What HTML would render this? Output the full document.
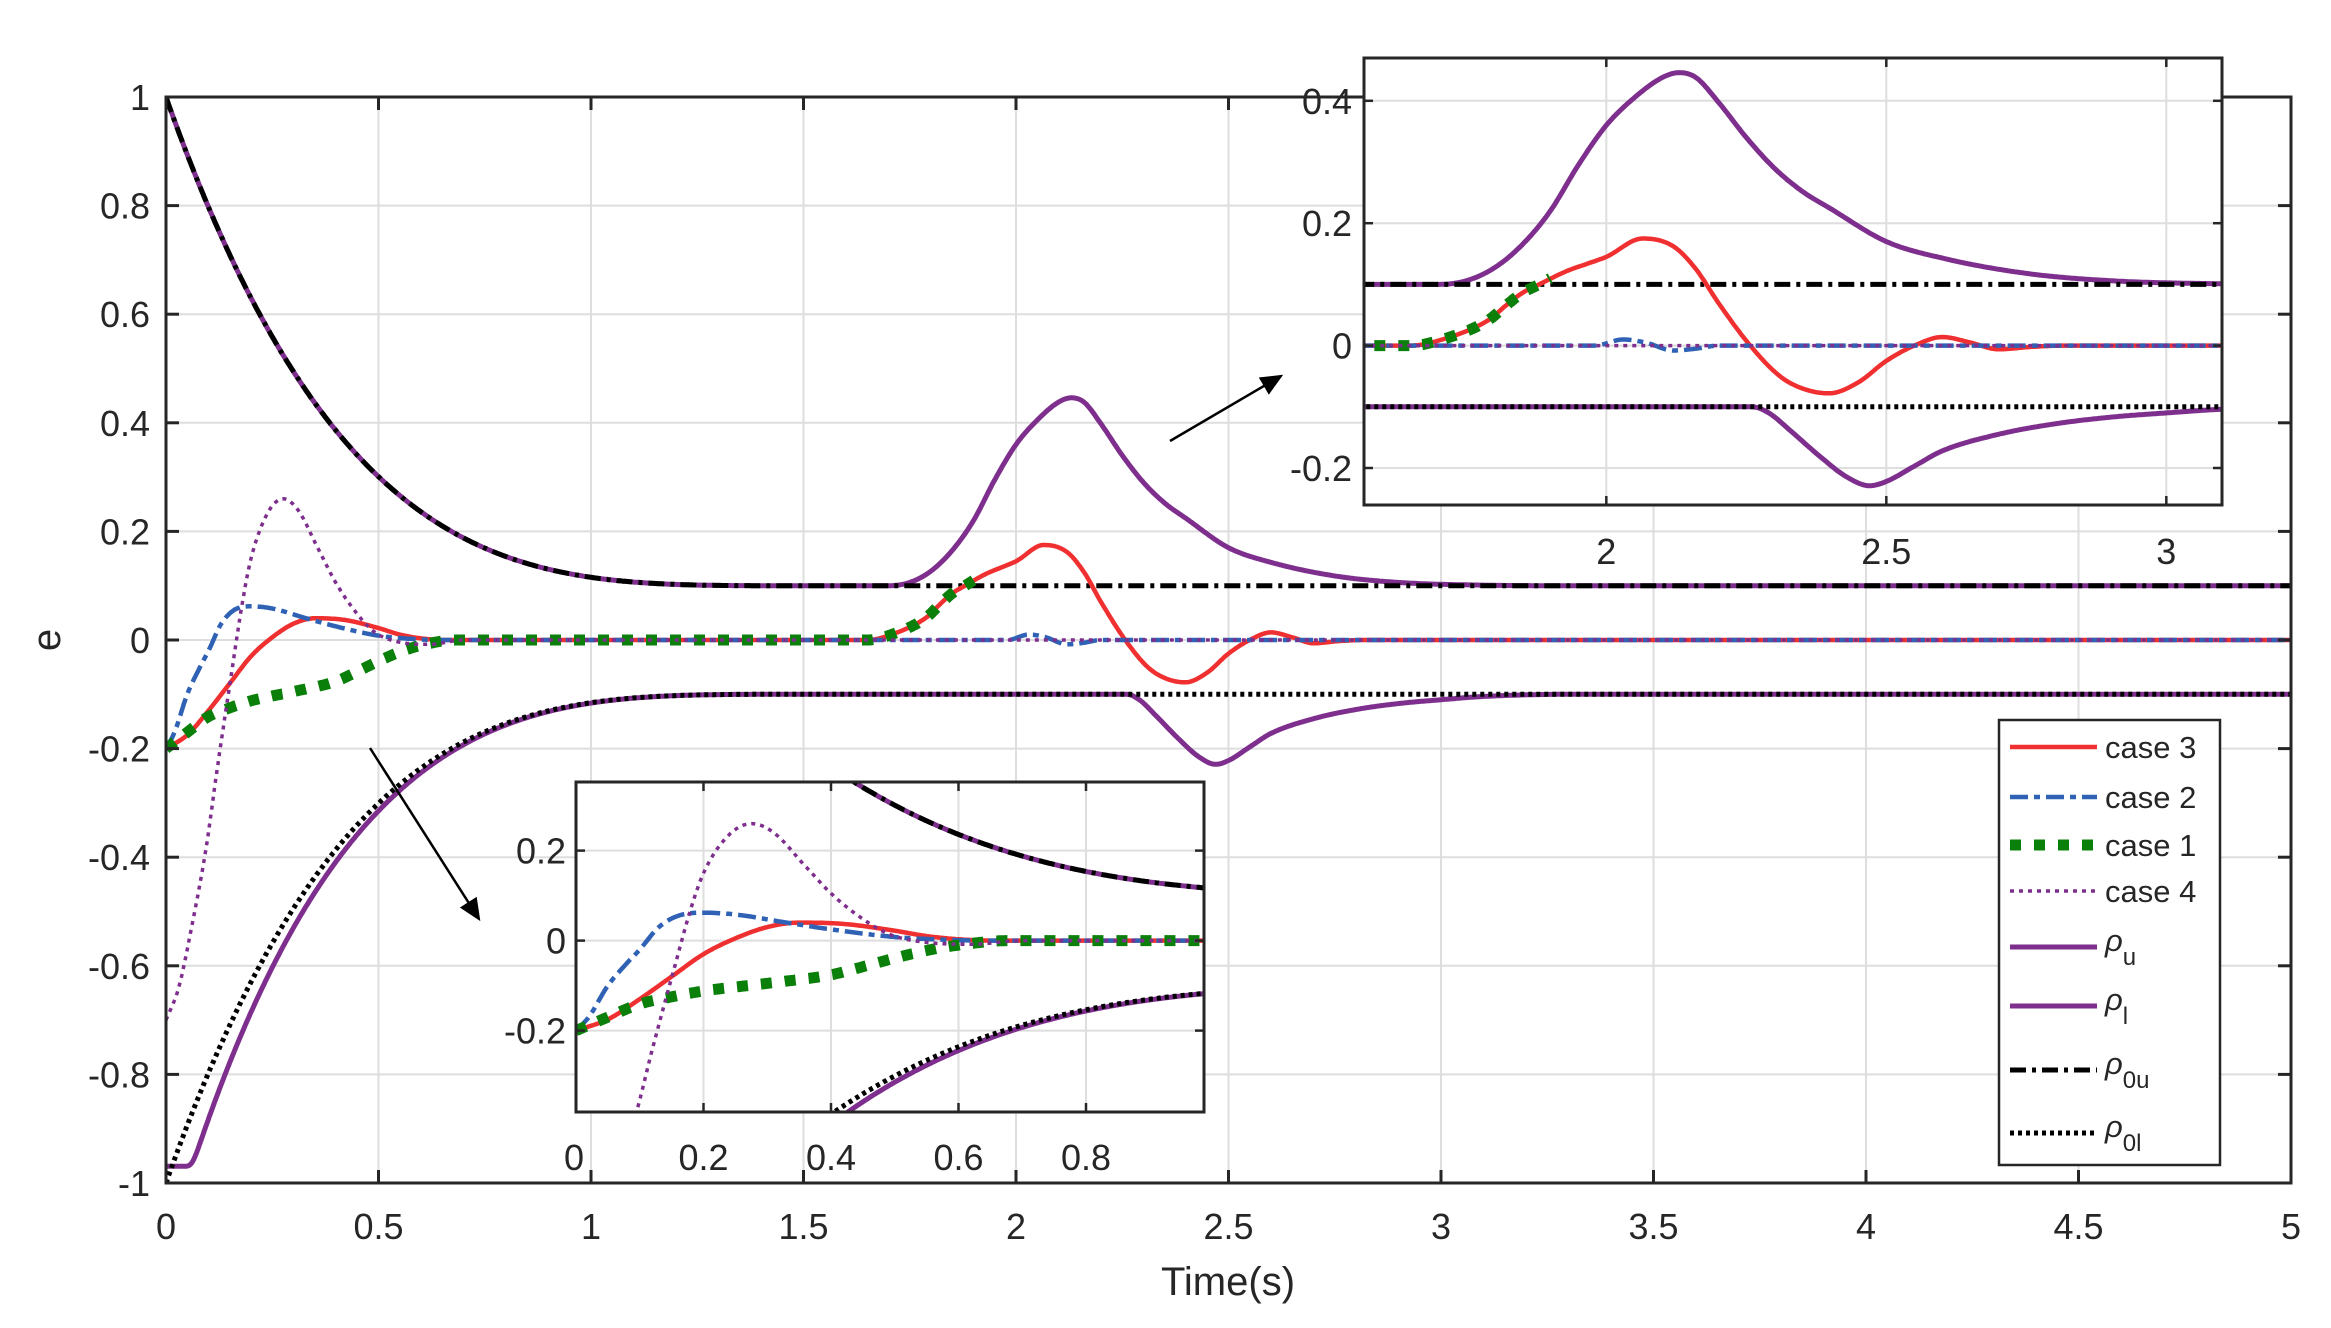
<!DOCTYPE html>
<html><head><meta charset="utf-8">
<style>
html,body{margin:0;padding:0;background:#fff;}
svg{display:block;}
text{font-family:"Liberation Sans",sans-serif;fill:#262626;}
</style></head>
<body>
<svg id="s" width="2331" height="1328" xmlns="http://www.w3.org/2000/svg">
<defs>
<clipPath id="cm"><rect x="166" y="97" width="2125" height="1086"/></clipPath>
<clipPath id="c1"><rect x="576" y="782" width="628" height="330"/></clipPath>
<clipPath id="c2"><rect x="1364" y="58" width="858" height="447"/></clipPath>
<marker id="ah" markerWidth="10" markerHeight="10" refX="8" refY="5" orient="auto" markerUnits="strokeWidth"><path d="M0,1 L9,5 L0,9 z" fill="#000"/></marker>
</defs>
<g id="root"></g>
</svg>
<script>
const NS="http://www.w3.org/2000/svg";
const root=document.getElementById('root');
function el(tag,attrs,parent,txt){const e=document.createElementNS(NS,tag);for(const k in attrs)e.setAttribute(k,attrs[k]);if(txt!==undefined)e.textContent=txt;(parent||root).appendChild(e);return e;}
function mono(pts){const n=pts.length,xs=pts.map(p=>p[0]),ys=pts.map(p=>p[1]);const d=[],m=[];
for(let i=0;i<n-1;i++)d.push((ys[i+1]-ys[i])/(xs[i+1]-xs[i]));
m[0]=d[0];m[n-1]=d[n-2];for(let i=1;i<n-1;i++){if(d[i-1]*d[i]<=0)m[i]=0;else m[i]=(d[i-1]+d[i])/2;}
for(let i=0;i<n-1;i++){if(d[i]===0){m[i]=0;m[i+1]=0;continue;}const a=m[i]/d[i],b=m[i+1]/d[i];const s=a*a+b*b;if(s>9){const t=3/Math.sqrt(s);m[i]=t*a*d[i];m[i+1]=t*b*d[i];}}
return function(x){if(x<=xs[0])return ys[0];if(x>=xs[n-1])return ys[n-1];let i=0;while(x>xs[i+1])i++;const h=xs[i+1]-xs[i],t=(x-xs[i])/h;const t2=t*t,t3=t2*t;
return (2*t3-3*t2+1)*ys[i]+(t3-2*t2+t)*h*m[i]+(-2*t3+3*t2)*ys[i+1]+(t3-t2)*h*m[i+1];};}
function r0u(t){return t>=1.5?0.1:0.1+0.9*Math.pow(1-t/1.5,3.7);}
const bumpU=mono([[1.5,0.1],[1.7,0.1],[1.75,0.106],[1.8,0.127],[1.85,0.165],[1.9,0.22],[1.95,0.295],[2.0,0.36],[2.05,0.405],[2.1,0.438],[2.13,0.446],[2.16,0.438],[2.2,0.398],[2.25,0.34],[2.3,0.29],[2.35,0.252],[2.4,0.224],[2.5,0.17],[2.6,0.143],[2.75,0.118],[2.9,0.106],[3.1,0.101],[3.3,0.1],[5,0.1]]);
function ru(t){return t<1.5?r0u(t):bumpU(t);}
const dipL=mono([[2.2,-0.1],[2.26,-0.1],[2.29,-0.11],[2.33,-0.14],[2.38,-0.18],[2.43,-0.215],[2.47,-0.229],[2.5,-0.222],[2.55,-0.197],[2.6,-0.172],[2.7,-0.145],[2.8,-0.128],[2.9,-0.117],[3.0,-0.11],[3.1,-0.104],[3.3,-0.1],[5,-0.1]]);
function smin(a,b,k){return -k*Math.log(Math.exp(-a/k)+Math.exp(-b/k));}
function rl(t){if(t>=2.2)return dipL(t);const d=0.055*Math.exp(-2.2*t);return -smin(0.97,r0u(Math.max(0,t-d)),0.012);}
const c3=mono([[0,-0.2],[0.05,-0.175],[0.1,-0.13],[0.15,-0.08],[0.2,-0.03],[0.25,0.005],[0.3,0.03],[0.35,0.04],[0.42,0.037],[0.5,0.022],[0.55,0.01],[0.6,0.003],[0.66,0],[1.65,0],[1.714,0.012],[1.79,0.042],[1.82,0.065],[1.85,0.086],[1.88,0.1],[1.93,0.122],[1.97,0.135],[2.0,0.145],[2.065,0.175],[2.12,0.162],[2.16,0.125],[2.2,0.07],[2.257,0],[2.31,-0.05],[2.35,-0.07],[2.398,-0.078],[2.45,-0.06],[2.5,-0.025],[2.55,0.0],[2.6,0.014],[2.65,0.005],[2.7,-0.006],[2.76,-0.002],[2.82,0],[5,0]]);
const c2=mono([[0,-0.2],[0.02,-0.17],[0.05,-0.1],[0.08,-0.05],[0.1,-0.02],[0.13,0.03],[0.16,0.055],[0.2,0.062],[0.25,0.058],[0.33,0.04],[0.4,0.025],[0.5,0.008],[0.6,0.001],[0.65,0],[1.98,0],[2.03,0.01],[2.07,0.005],[2.12,-0.008],[2.16,-0.005],[2.2,0],[5,0]]);
const c1=mono([[0,-0.2],[0.05,-0.17],[0.1,-0.141],[0.15,-0.125],[0.2,-0.112],[0.3,-0.095],[0.4,-0.076],[0.45,-0.058],[0.5,-0.039],[0.55,-0.022],[0.6,-0.01],[0.68,0],[1.65,0],[1.714,0.012],[1.79,0.042],[1.82,0.065],[1.85,0.086],[1.88,0.1],[1.9,0.11]]);
const c4=mono([[0,-0.7],[0.03,-0.64],[0.06,-0.53],[0.095,-0.38],[0.12,-0.24],[0.153,-0.067],[0.18,0.07],[0.2,0.15],[0.24,0.235],[0.276,0.26],[0.31,0.24],[0.36,0.165],[0.4,0.105],[0.44,0.058],[0.49,0.015],[0.55,-0.004],[0.62,-0.008],[0.7,0],[5,0]]);

function pathOf(f,t0,t1,X,Y){let d="";const N=Math.ceil((t1-t0)/0.003);for(let i=0;i<=N;i++){const t=t0+(t1-t0)*i/N;d+=(i?"L":"M")+X(t).toFixed(1)+","+Y(f(t)).toFixed(1);}return d;}

const COL={p:"#7E2F8E",r:"#F03030",b:"#2F62B5",g:"#0A7F0A",k:"#000"};
function drawSeries(g,X,Y,t0,t1){
  el('path',{d:pathOf(ru,t0,t1,X,Y),fill:"none",stroke:COL.p,"stroke-width":5},g);
  el('path',{d:pathOf(rl,t0,t1,X,Y),fill:"none",stroke:COL.p,"stroke-width":5},g);
  el('path',{d:pathOf(r0u,t0,t1,X,Y),fill:"none",stroke:COL.k,"stroke-width":5,"stroke-dasharray":"16 6 4 6"},g);
  el('path',{d:pathOf(t=>-r0u(t),t0,t1,X,Y),fill:"none",stroke:COL.k,"stroke-width":5,"stroke-dasharray":"4 4"},g);
  el('path',{d:pathOf(c3,t0,t1,X,Y),fill:"none",stroke:COL.r,"stroke-width":4.5},g);
  el('path',{d:pathOf(c2,t0,t1,X,Y),fill:"none",stroke:COL.b,"stroke-width":4.5,"stroke-dasharray":"18 6 6 6"},g);
  el('path',{d:pathOf(c1,t0,Math.min(t1,1.9),X,Y),fill:"none",stroke:COL.g,"stroke-width":11,"stroke-dasharray":"11 13"},g);
  el('path',{d:pathOf(c4,t0,t1,X,Y),fill:"none",stroke:COL.p,"stroke-width":3.5,"stroke-dasharray":"4 5"},g);
}

const X=t=>166+t*425, Y=v=>640-v*543;
const gg=el('g',{});
for(let i=1;i<10;i++)el('line',{x1:X(i*0.5),x2:X(i*0.5),y1:97,y2:1183,stroke:"#dedede","stroke-width":2},gg);
for(let i=-4;i<=4;i++)el('line',{x1:166,x2:2291,y1:Y(i*0.2),y2:Y(i*0.2),stroke:"#dedede","stroke-width":2},gg);
const gm=el('g',{"clip-path":"url(#cm)"});
drawSeries(gm,X,Y,0,5);
el('rect',{x:166,y:97,width:2125,height:1086,fill:"none",stroke:"#262626","stroke-width":3});
for(let i=0;i<=10;i++){const x=X(i*0.5);el('line',{x1:x,x2:x,y1:1183,y2:1170,stroke:"#262626","stroke-width":3});el('line',{x1:x,x2:x,y1:97,y2:110,stroke:"#262626","stroke-width":3});
 el('text',{x:x,y:1239,"font-size":36,"text-anchor":"middle"},null,String(i*0.5));}
for(let i=-5;i<=5;i++){const y=Y(i*0.2);el('line',{x1:166,x2:179,y1:y,y2:y,stroke:"#262626","stroke-width":3});el('line',{x1:2291,x2:2278,y1:y,y2:y,stroke:"#262626","stroke-width":3});
 let s=(Math.round(i*2)/10).toString(); if(i===5)s="1";if(i===-5)s="-1";
 el('text',{x:150,y:y+13,"font-size":36,"text-anchor":"end"},null,s);}
el('text',{x:1228,y:1295,"font-size":40,"text-anchor":"middle"},null,"Time(s)");
el('text',{x:60,y:640,"font-size":40,"text-anchor":"middle",transform:"rotate(-90 60 640)"},null,"e");

el('line',{x1:1170,y1:441,x2:1281,y2:376,stroke:"#000","stroke-width":2.5,"marker-end":"url(#ah)"});
el('line',{x1:370,y1:748,x2:479,y2:919,stroke:"#000","stroke-width":2.5,"marker-end":"url(#ah)"});

(function(){const L=576,T=782,W=628,H=330;const XI=t=>576+t*637.5,YI=v=>940.6-v*450;
el('rect',{x:L,y:T,width:W,height:H,fill:"#fff"});
for(const t of [0.2,0.4,0.6,0.8])el('line',{x1:XI(t),x2:XI(t),y1:T,y2:T+H,stroke:"#dedede","stroke-width":2});
for(const v of [-0.2,0,0.2])el('line',{x1:L,x2:L+W,y1:YI(v),y2:YI(v),stroke:"#dedede","stroke-width":2});
const g=el('g',{"clip-path":"url(#c1)"});drawSeries(g,XI,YI,0,1);
el('rect',{x:L,y:T,width:W,height:H,fill:"none",stroke:"#262626","stroke-width":3});
for(const t of [0,0.2,0.4,0.6,0.8]){const x=XI(t);el('line',{x1:x,x2:x,y1:T+H,y2:T+H-9,stroke:"#262626","stroke-width":2.5});el('line',{x1:x,x2:x,y1:T,y2:T+9,stroke:"#262626","stroke-width":2.5});
 el('text',{x:t===0?x-2:x,y:1170,"font-size":36,"text-anchor":"middle"},null,String(t));}
for(const v of [-0.2,0,0.2]){const y=YI(v);el('line',{x1:L,x2:L+9,y1:y,y2:y,stroke:"#262626","stroke-width":2.5});el('line',{x1:L+W,x2:L+W-9,y1:y,y2:y,stroke:"#262626","stroke-width":2.5});
 el('text',{x:566,y:y+13,"font-size":36,"text-anchor":"end"},null,String(v));}
})();

(function(){const L=1364,T=58,W=858,H=447;const XU=t=>1364.4+(t-1.568)*560,YU=v=>345.6-v*612;
el('rect',{x:L,y:T,width:W,height:H,fill:"#fff"});
for(const t of [2,2.5,3])el('line',{x1:XU(t),x2:XU(t),y1:T,y2:T+H,stroke:"#dedede","stroke-width":2});
for(const v of [-0.2,0,0.2,0.4])el('line',{x1:L,x2:L+W,y1:YU(v),y2:YU(v),stroke:"#dedede","stroke-width":2});
const g=el('g',{"clip-path":"url(#c2)"});drawSeries(g,XU,YU,1.5,3.2);
el('rect',{x:L,y:T,width:W,height:H,fill:"none",stroke:"#262626","stroke-width":3});
for(const t of [2,2.5,3]){const x=XU(t);el('line',{x1:x,x2:x,y1:T+H,y2:T+H-9,stroke:"#262626","stroke-width":2.5});el('line',{x1:x,x2:x,y1:T,y2:T+9,stroke:"#262626","stroke-width":2.5});
 el('text',{x:x,y:564,"font-size":36,"text-anchor":"middle"},null,String(t));}
for(const v of [-0.2,0,0.2,0.4]){const y=YU(v);el('line',{x1:L,x2:L+9,y1:y,y2:y,stroke:"#262626","stroke-width":2.5});el('line',{x1:L+W,x2:L+W-9,y1:y,y2:y,stroke:"#262626","stroke-width":2.5});
 el('text',{x:1352,y:y+13,"font-size":36,"text-anchor":"end"},null,String(v));}
})();

(function(){el('rect',{x:1999,y:720,width:221,height:445,fill:"#fff",stroke:"#262626","stroke-width":2.5});
const rows=[[747,"r","","case 3"],[797,"b","18 6 6 6","case 2"],[845,"g","11 13","case 1"],[891,"p4","4 5","case 4"],[947,"p","","u"],[1006,"p","","l"],[1070,"k","16 6 4 6","0u"],[1133,"k","4 4","0l"]];
for(const [y,c,da,lab] of rows){const col=c==="p4"?COL.p:COL[c];const w=c==="g"?11:(c==="p4"?3.5:(c==="p"||c==="k")?5:4.5);
 const a={x1:2010,x2:2097,y1:y,y2:y,stroke:col,"stroke-width":w};if(da)a["stroke-dasharray"]=da;el('line',a);
 if(lab.startsWith("case"))el('text',{x:2105,y:y+11,"font-size":31,fill:"#000"},null,lab);
 else{const t=el('text',{x:2105,y:y+4,"font-size":31,fill:"#000"});el('tspan',{"font-style":"italic"},t,"ρ");el('tspan',{dy:14,"font-size":24},t,lab);}
}})();
</script>
</body></html>
